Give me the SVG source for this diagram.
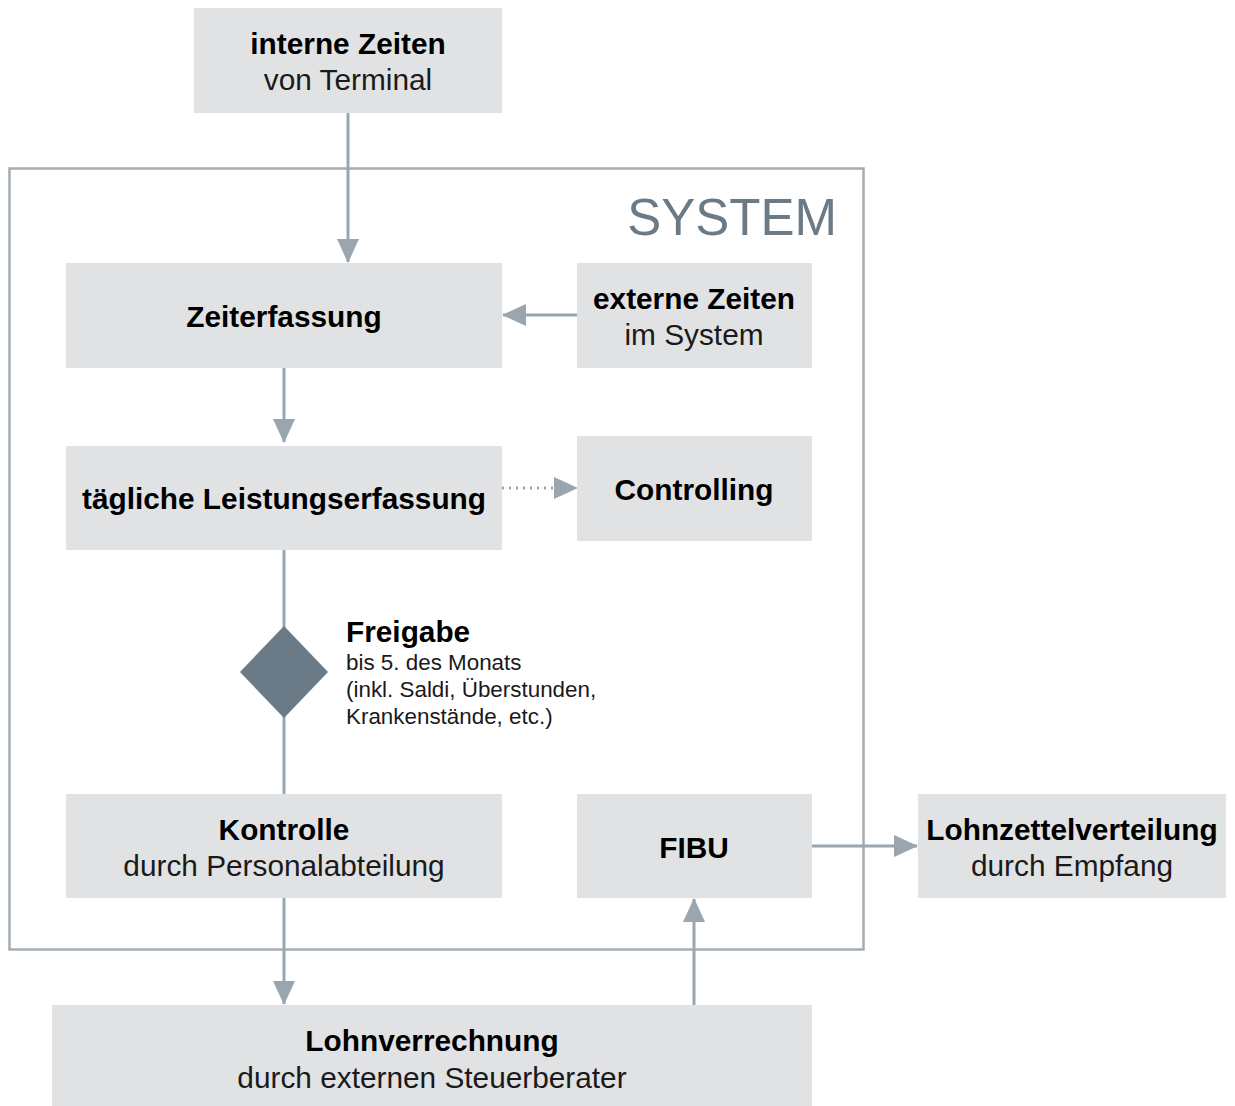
<svg xmlns="http://www.w3.org/2000/svg" width="1235" height="1106" viewBox="0 0 1235 1106">
<defs>
<style>
.box{fill:#e1e2e4}
.b{font-family:"Liberation Sans",Arial,sans-serif;font-weight:bold;font-size:29.8px;fill:#000;text-anchor:middle}
.r{font-family:"Liberation Sans",Arial,sans-serif;font-size:29.8px;fill:#1a1a1a;text-anchor:middle}
.s{font-family:"Liberation Sans",Arial,sans-serif;font-size:22.4px;fill:#1a1a1a}
.ln{stroke:#9aa6ae;stroke-width:3;fill:none}
</style>
<marker id="ah" markerUnits="userSpaceOnUse" markerWidth="24" markerHeight="24" viewBox="0 0 24 24" refX="23" refY="12" orient="auto">
<path d="M0,1 L24,12 L0,23 Z" fill="#9aa6ae"/>
</marker>
</defs>
<rect width="1235" height="1106" fill="#fff"/>
<g id="system">
<rect x="9.5" y="168.5" width="854" height="781" fill="none" stroke="#a3adb4" stroke-width="2.5"/>
<text x="837" y="235" font-family="'Liberation Sans',Arial,sans-serif" font-size="51" fill="#6b7b86" text-anchor="end">SYSTEM</text>
</g>
<g id="connectors">
<line class="ln" x1="348" y1="113" x2="348" y2="262" marker-end="url(#ah)"/>
<line class="ln" x1="577" y1="315" x2="503" y2="315" marker-end="url(#ah)"/>
<line class="ln" x1="284" y1="368" x2="284" y2="442" marker-end="url(#ah)"/>
<line class="ln" x1="502" y1="488" x2="577" y2="488" stroke-dasharray="2 5" stroke-width="2.5" marker-end="url(#ah)"/>
<line class="ln" x1="284" y1="550" x2="284" y2="628"/>
<line class="ln" x1="284" y1="716" x2="284" y2="794"/>
<line class="ln" x1="284" y1="898" x2="284" y2="1004" marker-end="url(#ah)"/>
<line class="ln" x1="694" y1="1005" x2="694" y2="899" marker-end="url(#ah)"/>
<line class="ln" x1="812" y1="846" x2="917" y2="846" marker-end="url(#ah)"/>
</g>
<g id="interne"><rect class="box" x="194" y="8" width="308" height="105"/><text class="b" x="348" y="54">interne Zeiten</text><text class="r" x="348" y="90">von Terminal</text></g>
<g id="zeiterfassung"><rect class="box" x="66" y="263" width="436" height="105"/><text class="b" x="284" y="327">Zeiterfassung</text></g>
<g id="externe"><rect class="box" x="577" y="263" width="235" height="105"/><text class="b" x="694" y="309">externe Zeiten</text><text class="r" x="694" y="345">im System</text></g>
<g id="taegliche"><rect class="box" x="66" y="446" width="436" height="104"/><text class="b" x="284" y="509">tägliche Leistungserfassung</text></g>
<g id="controlling"><rect class="box" x="577" y="436" width="235" height="105"/><text class="b" x="694" y="500">Controlling</text></g>
<g id="freigabe">
<path d="M284,626 L328,672 L284,718 L240,672 Z" fill="#6a7a86"/>
<text x="346" y="642" font-family="'Liberation Sans',Arial,sans-serif" font-weight="bold" font-size="29.8" fill="#000">Freigabe</text>
<text class="s" x="346" y="670">bis 5. des Monats</text>
<text class="s" x="346" y="697">(inkl. Saldi, Überstunden,</text>
<text class="s" x="346" y="724">Krankenstände, etc.)</text>
</g>
<g id="kontrolle"><rect class="box" x="66" y="794" width="436" height="104"/><text class="b" x="284" y="840">Kontrolle</text><text class="r" x="284" y="876">durch Personalabteilung</text></g>
<g id="fibu"><rect class="box" x="577" y="794" width="235" height="104"/><text class="b" x="694" y="858">FIBU</text></g>
<g id="lohnzettel"><rect class="box" x="918" y="794" width="308" height="104"/><text class="b" x="1072" y="840">Lohnzettelverteilung</text><text class="r" x="1072" y="876">durch Empfang</text></g>
<g id="lohnverrechnung"><rect class="box" x="52" y="1005" width="760" height="101"/><text class="b" x="432" y="1051">Lohnverrechnung</text><text class="r" x="432" y="1088">durch externen Steuerberater</text></g>
</svg>
